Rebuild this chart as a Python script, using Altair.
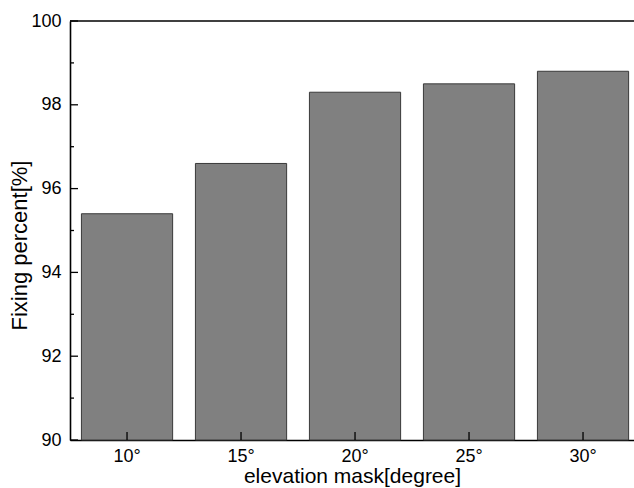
import altair as alt
import pandas as pd

masks = ["10°", "15°", "20°", "25°", "30°"]
values = [95.4, 96.6, 98.3, 98.5, 98.8]
y_major = [90, 92, 94, 96, 98, 100]
y_minor = [91, 93, 95, 97, 99]
top_value = [100]

W, H = 564, 419

df = pd.DataFrame({"mask": masks, "value": values})
df_major = pd.DataFrame({"value": y_major})
df_minor = pd.DataFrame({"value": y_minor})
df_top = pd.DataFrame({"value": top_value})

xscale = alt.Scale(domain=masks, paddingInner=0.2, paddingOuter=0.0737, align=0.68)
yscale = alt.Scale(domain=[90, 100], zero=False, nice=False)

font = "Liberation Sans"

xaxis = alt.Axis(title="elevation mask[degree]", labelAngle=0, ticks=False,
                 labelPadding=7, labelFontSize=18, labelFont=font, labelColor="black",
                 titleFontSize=21, titleFont=font, titleFontWeight="normal",
                 titleColor="black", titleBaseline="alphabetic", titleY=42.5,
                 domainColor="black", domainWidth=1.6)
yaxis = alt.Axis(title="Fixing percent[%]", values=y_major, format="d", ticks=False,
                 grid=False, labelPadding=9, labelFontSize=18, labelFont=font,
                 labelColor="black", titleFontSize=22, titleFont=font,
                 titleFontWeight="normal", titleColor="black", titleAngle=270,
                 titleBaseline="alphabetic", titleX=-44, titleY=224,
                 domainColor="black", domainWidth=1.6)

X = lambda: alt.X("mask:N", sort=masks, scale=xscale, axis=xaxis)
Y = lambda: alt.Y("value:Q", scale=yscale, axis=yaxis)

bars = alt.Chart(df).mark_bar(color="#808080", stroke="#3a3a3a", strokeWidth=1).encode(
    x=X(), y=Y(), y2=alt.Y2(datum=90),
)

major = alt.Chart(df_major).mark_rule(color="black", strokeWidth=1.3).encode(
    y=Y(), x=alt.value(0), x2=alt.value(8)
)
minor = alt.Chart(df_minor).mark_rule(color="black", strokeWidth=1.3).encode(
    y=Y(), x=alt.value(0), x2=alt.value(4)
)
xticks = alt.Chart(df).mark_rule(color="black", strokeWidth=1.3).encode(
    x=X(), y=alt.value(H), y2=alt.value(H - 8)
)
top = alt.Chart(df_top).mark_rule(color="black", strokeWidth=1.6).encode(
    y=Y(), x=alt.value(0), x2=alt.value(W)
)

chart = alt.layer(bars, major, minor, xticks, top).properties(
    width=W, height=H,
    autosize=alt.AutoSizeParams(type="none"),
    padding={"left": 70, "top": 21, "right": 0, "bottom": 48},
).configure_view(stroke=None).configure_axis(grid=False)

chart.save("out.html", embed_options={"renderer": "svg", "actions": False})
